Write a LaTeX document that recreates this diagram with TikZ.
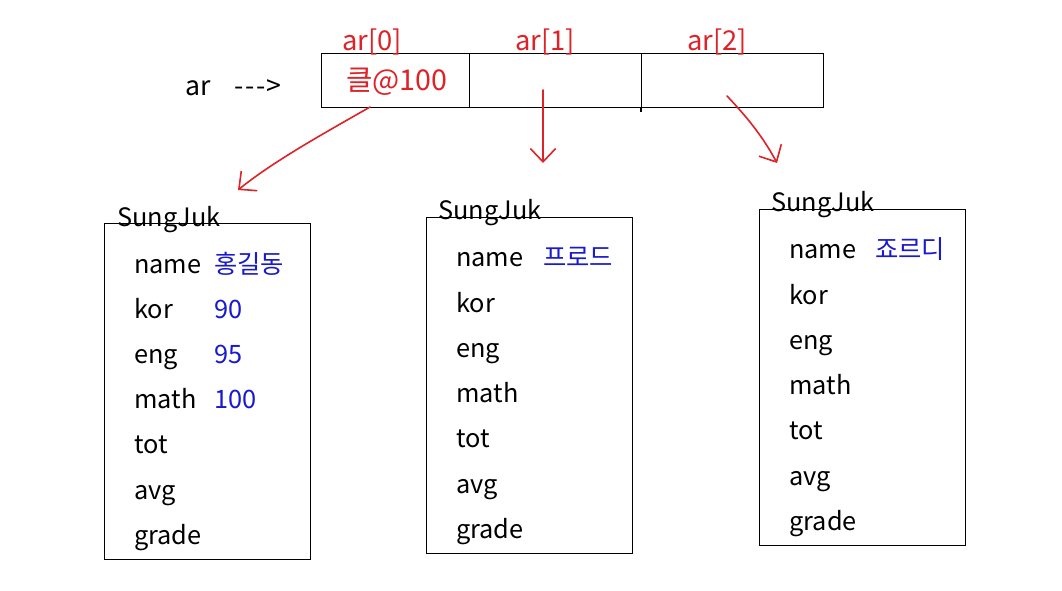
\documentclass[tikz,border=0pt]{standalone}
\usepackage{fontspec}
\setmainfont{Noto Sans CJK KR}
\usetikzlibrary{arrows.meta}
\definecolor{penred}{RGB}{222,35,40}
\definecolor{penblue}{RGB}{25,25,205}
\tikzset{
  cell/.style={draw=black, line width=0.8pt, minimum height=54*0.75pt, inner sep=0pt},
  recbox/.style={draw=black, line width=0.8pt, inner sep=0pt, minimum width=206*0.75pt, minimum height=336*0.75pt, anchor=north west},
  txt/.style={anchor=base west, inner sep=0pt, font=\fontsize{19}{22}\selectfont, text=black},
  val/.style={txt, text=penblue},
  redtxt/.style={anchor=base, inner sep=0pt, font=\fontsize{20.5}{24}\selectfont, text=penred},
  penarrow/.style={draw=penred, line width=1.2pt, line cap=round, -{Straight Barb[length=10pt,width=19pt,line width=1.2pt]}}
}
\begin{document}
\begin{tikzpicture}[x=0.75pt,y=-0.75pt]
\useasboundingbox[fill=white] (0,0) rectangle (1062,591);
% array
\node[cell, minimum width=148*0.75pt, anchor=north west] (c0) at (321,53) {};
\node[cell, minimum width=172*0.75pt, anchor=north west] (c1) at (469,53) {};
\node[cell, minimum width=182*0.75pt, anchor=north west] (c2) at (641,53) {};
\coordinate (d2) at (641,112);
\draw[line width=0.8pt] (c2.south west) -- (d2);
\node[redtxt] (l0) at (372,51) {ar[0]};
\node[redtxt] (l1) at (545,51) {ar[1]};
\node[redtxt] (l2) at (717,51) {ar[2]};
\node[txt, font=\fontsize{20}{24}\selectfont] (ar) at (185,96) {ar\hspace{0.9em}{-}\hspace{0.06em}{-}\hspace{0.06em}{-}\hspace{0.04em}>};
\node[redtxt, font=\fontsize{21.5}{25}\selectfont] (addr) at (397,91) {클@100};
% boxes
\node[recbox] (b1) at (104,223) {};
\node[recbox] (b2) at (426,217) {};
\node[recbox] (b3) at (759,209) {};
\node[txt] (t1) at (117,227) {SungJuk};
\node[txt] (t2) at (438,220) {SungJuk};
\node[txt] (t3) at (771,212) {SungJuk};
% box 1
\node[txt] (n1) at (134,273) {name};
\node[txt] (k1) at (134,318) {kor};
\node[txt] (e1) at (134,363) {eng};
\node[txt] (m1) at (134,408) {math};
\node[txt] (o1) at (134,453) {tot};
\node[txt] (a1) at (134,499) {avg};
\node[txt] (g1) at (134,544) {grade};
\node[val] (nv1) at (214,273) {홍길동};
\node[val] (kv1) at (214,318) {90};
\node[val] (ev1) at (214,363) {95};
\node[val] (mv1) at (214,408) {100};
% box 2
\node[txt] (n2) at (456,267) {name};
\node[txt] (k2) at (456,312) {kor};
\node[txt] (e2) at (456,357) {eng};
\node[txt] (m2) at (456,402) {math};
\node[txt] (o2) at (456,447) {tot};
\node[txt] (a2) at (456,493) {avg};
\node[txt] (g2) at (456,538) {grade};
\node[val] (nv2) at (543,267) {프로드};
% box 3
\node[txt] (n3) at (789,259) {name};
\node[txt] (k3) at (789,304) {kor};
\node[txt] (e3) at (789,349) {eng};
\node[txt] (m3) at (789,394) {math};
\node[txt] (o3) at (789,439) {tot};
\node[txt] (a3) at (789,485) {avg};
\node[txt] (g3) at (789,530) {grade};
\node[val] (nv3) at (875,259) {죠르디};
% arrows
\coordinate (s0) at (370,107);
\coordinate (e0) at (238,190);
\coordinate (s1) at (543,90);
\coordinate (e1) at (543,163);
\coordinate (s2) at (727,96);
\coordinate (e2) at (777,163);
\draw[penarrow] (s0) .. controls (330,130) and (275,160) .. (e0);
\draw[penarrow] (s1) -- (e1);
\draw[penarrow] (s2) .. controls (745,115) and (762,135) .. (e2);
\end{tikzpicture}
\end{document}
